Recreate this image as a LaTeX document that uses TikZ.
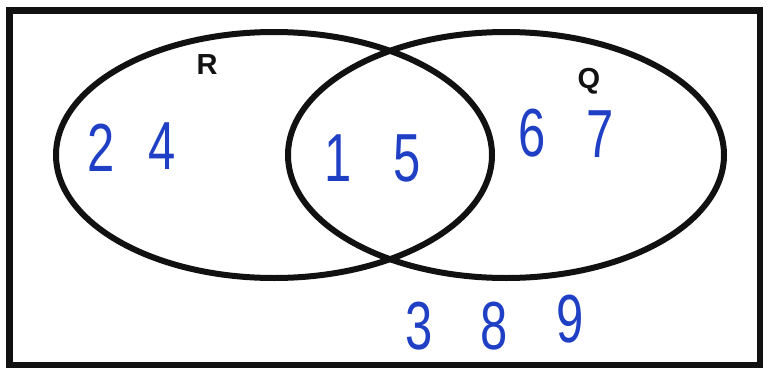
\documentclass[tikz,border=0pt]{standalone}
\usepackage{fontspec}
\setmainfont{Liberation Sans}
\newfontfamily\handdigits[FakeStretch=0.72]{Liberation Sans}
\usepackage{tikz}
\usetikzlibrary{positioning, shapes.geometric}
\definecolor{inkblue}{HTML}{1F3FC4}
\definecolor{inkblack}{HTML}{111111}

\begin{document}
\begin{tikzpicture}[
    x=1pt, y=-1pt,
    universe/.style={draw=inkblack, line width=6.5pt},
    setring/.style={
        draw=inkblack, ellipse, line width=6pt,
        minimum width=436pt, minimum height=246pt, inner sep=0pt
    },
    setlabel/.style={font=\fontsize{29}{29}\selectfont\bfseries, color=inkblack},
    digit/.style={font=\handdigits\fontsize{68}{68}\selectfont, color=inkblue, inner sep=0pt}
]
\useasboundingbox (0,0) rectangle (768,367);

% --- Universal set ---
\draw[universe] (9.5,10.5) rectangle (760,365);

% --- Sets R and Q ---
\node[setring] (setR) at (274,155) {};
\node[setring] (setQ) at (506,155) {};
\node[setlabel] (labR) at (207,65) {R};
\node[setlabel] (labQ) at (589,81) {Q};

% --- Elements ---
\node[digit] (d2) at (101,148) {2};
\node[digit] (d4) at (162,146) {4};
\node[digit] (d1) at (338,158) {1};
\node[digit] (d5) at (407,158) {5};
\node[digit] (d6) at (532,133) {6};
\node[digit] (d7) at (600,134) {7};
\node[digit] (d3) at (419,326) {3};
\node[digit] (d8) at (494,326) {8};
\node[digit] (d9) at (570,319) {9};

\end{tikzpicture}
\end{document}
